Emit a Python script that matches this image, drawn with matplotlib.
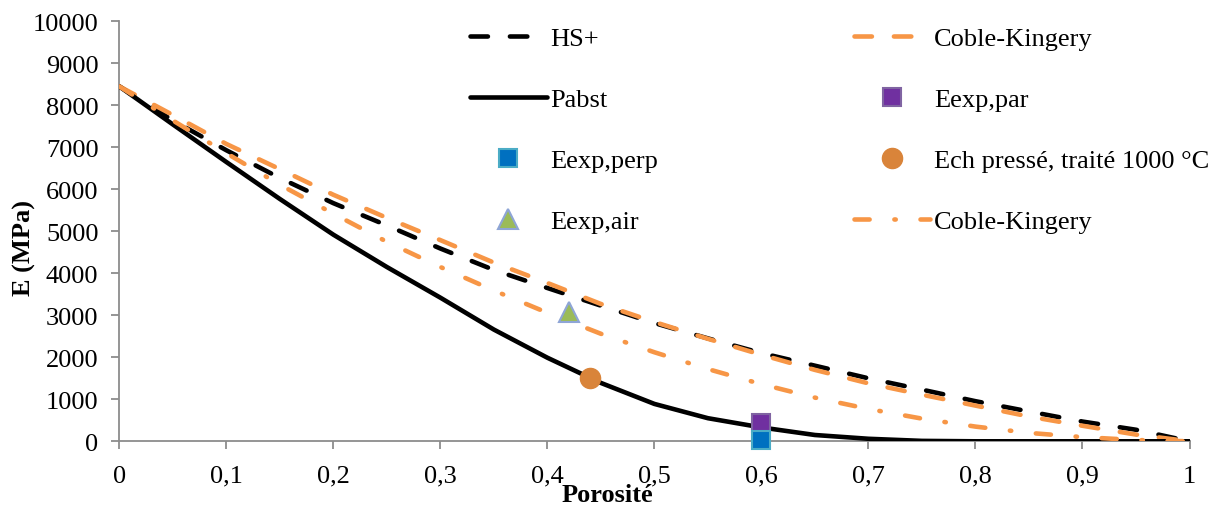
import matplotlib
matplotlib.use("Agg")
import matplotlib.pyplot as plt
from matplotlib.ticker import FuncFormatter, MultipleLocator

plt.rcParams['font.family'] = ['Liberation Serif', 'DejaVu Serif']

porosity = [0.00, 0.05, 0.10, 0.15, 0.20, 0.25, 0.30, 0.35, 0.40, 0.45, 0.50,
            0.55, 0.60, 0.65, 0.70, 0.75, 0.80, 0.85, 0.90, 0.95, 1.00]
hs_plus = [8450, 7640, 6930, 6270, 5670, 5140, 4590, 4080, 3650, 3230, 2815,
           2450, 2100, 1800, 1500, 1230, 955, 710, 470, 275, 0]
coble_kingery = [8450, 7770, 7080, 6480, 5870, 5320, 4790, 4255, 3770, 3270, 2840,
                 2440, 2060, 1700, 1380, 1110, 850, 590, 370, 160, 0]
pabst = [8450, 7545, 6650, 5770, 4920, 4150, 3420, 2660, 1990, 1390, 890,
         550, 330, 150, 60, 10, 0, 0, 0, 0, 0]
coble_kingery_dd = [8450, 7640, 6860, 6110, 5420, 4750, 4150, 3590, 3060, 2560, 2120,
                    1720, 1360, 1040, 770, 540, 350, 200, 100, 30, 0]

exp_par_x, exp_par_y = [0.60], [430]
exp_perp_x, exp_perp_y = [0.60], [40]
ech_x, ech_y = [0.44], [1500]
exp_air_x, exp_air_y = [0.42], [3080]

x_ticks = [0, 0.1, 0.2, 0.3, 0.4, 0.5, 0.6, 0.7, 0.8, 0.9, 1.0]

ORANGE = '#F79646'
LW = 3.3
FS = 19

fig = plt.figure(figsize=(12.08, 5.06), dpi=100)
ax = fig.add_axes([119.3/1208, 1-442.3/506, (1189.5-119.3)/1208, (442.3-22.3)/506])

h_hs, = ax.plot(porosity, hs_plus, color='black', lw=LW, dashes=(3.8, 4.8),
                dash_capstyle='round', label='HS+', zorder=3)
h_ck, = ax.plot(porosity, coble_kingery, color=ORANGE, lw=LW, dashes=(3.8, 4.8),
                dash_capstyle='round', label='Coble-Kingery', zorder=3)
h_pb, = ax.plot(porosity, pabst, color='black', lw=LW, solid_capstyle='round',
                label='Pabst', zorder=3)
h_par, = ax.plot(exp_par_x, exp_par_y, ls='none', marker='s', ms=13.5,
                 mfc='#7030A0', mec='#8064A2', mew=1.5, label='Eexp,par',
                 zorder=5, clip_on=False)
h_perp, = ax.plot(exp_perp_x, exp_perp_y, ls='none', marker='s', ms=13.5,
                  mfc='#0070C0', mec='#4BACC6', mew=1.5, label='Eexp,perp',
                  zorder=5, clip_on=False)
h_ech, = ax.plot(ech_x, ech_y, ls='none', marker='o', ms=14.5,
                 mfc='#D9843A', mec='#D9843A', mew=1, label='Ech pressé, traité 1000 °C',
                 zorder=5, clip_on=False)
h_air, = ax.plot(exp_air_x, exp_air_y, ls='none', marker='^', ms=14,
                 mfc='#9BBB59', mec='#8EA5D6', mew=1.5, label='Eexp,air',
                 zorder=5, clip_on=False)
h_dd, = ax.plot(porosity, coble_kingery_dd, color=ORANGE, lw=LW,
                dashes=(3.3, 5.4, 0.3, 5.4), dash_capstyle='round',
                label='Coble-Kingery', zorder=3)

ax.set_xlim(0, 1)
ax.set_ylim(0, 10000)
ax.set_xticks(x_ticks)
ax.yaxis.set_major_locator(MultipleLocator(1000))

def fmt(v, pos):
    s = ('%.1f' % v).rstrip('0').rstrip('.')
    return s.replace('.', ',')

ax.xaxis.set_major_formatter(FuncFormatter(fmt))
ax.yaxis.set_major_formatter(FuncFormatter(lambda v, p: '%d' % v))

for s in ['top', 'right']:
    ax.spines[s].set_visible(False)
for s in ['left', 'bottom']:
    ax.spines[s].set_color('#8C8C8C')
    ax.spines[s].set_linewidth(1.3)

ax.tick_params(axis='both', direction='out', length=6, width=1.3, color='#8C8C8C',
               labelsize=FS, labelcolor='black')
ax.tick_params(axis='y', pad=9)
ax.tick_params(axis='x', pad=11)

AXW = 1189.5 - 119.3
AXH = 442.3 - 22.3
ax.set_xlabel('Porosité', fontsize=FS, fontweight='bold')
ax.xaxis.set_label_coords((607-119.3)/AXW, -(484-442.3)/AXH)
ax.set_ylabel('E (MPa)', fontsize=FS, fontweight='bold')
ax.yaxis.set_label_coords(-(119.3-36)/AXW, (442.3-248)/AXH)

handles = [h_hs, h_pb, h_perp, h_air, h_ck, h_par, h_ech, h_dd]
labels = [h.get_label() for h in handles]
leg = fig.legend(handles, labels, ncol=2, loc='upper left',
                 bbox_to_anchor=(470/1208, 1-28/506), bbox_transform=fig.transFigure,
                 frameon=False, fontsize=FS, handlelength=2.9, handletextpad=0.15,
                 columnspacing=7.4, labelspacing=1.42, borderpad=0, borderaxespad=0)

fig.savefig('out.png', dpi=100)
